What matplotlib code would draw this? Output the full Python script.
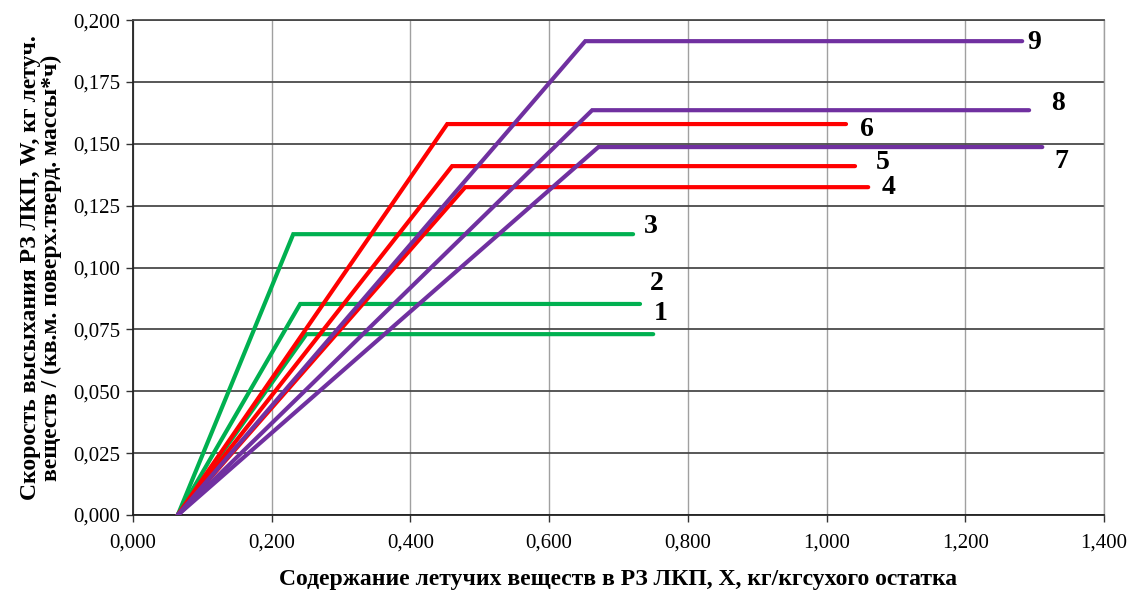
import matplotlib
matplotlib.use("Agg")
import matplotlib.pyplot as plt
from matplotlib.ticker import FuncFormatter, MultipleLocator

GREEN = "#00B050"; RED = "#FF0000"; PURPLE = "#7030A0"
plt.rcParams["font.family"] = ["Liberation Serif", "DejaVu Serif"]

# кривые: начало (x0, 0) -> излом (xk, w) -> конец (xe, w)
x_start = 0.0645
names = ["1", "2", "3", "4", "5", "6", "7", "8", "9"]
x_knee = [0.250, 0.241, 0.231, 0.479, 0.460, 0.453, 0.671, 0.662, 0.652]
x_end = [0.750, 0.731, 0.721, 1.060, 1.041, 1.028, 1.311, 1.292, 1.282]
w_max = [0.0731, 0.0853, 0.1135, 0.1325, 0.1410, 0.1580, 0.1487, 0.1636, 0.1915]
colors = [GREEN] * 3 + [RED] * 3 + [PURPLE] * 3
# подписи номеров кривых
lbl_x = [0.761, 0.755, 0.747, 1.090, 1.081, 1.058, 1.339, 1.334, 1.300]
lbl_y = [0.0816, 0.0937, 0.1168, 0.1325, 0.1426, 0.1560, 0.1430, 0.1665, 0.1910]

fig = plt.figure(figsize=(11.37, 5.92), dpi=100)
ax = fig.add_axes([0.117, 0.130, 0.854, 0.836])

for xk, xe, w, c in zip(x_knee, x_end, w_max, colors):
    ax.plot([x_start, xk, xe], [0, w, w], color=c, lw=3.0,
            solid_capstyle="round", solid_joinstyle="miter", zorder=3)
for n, tx, ty in zip(names, lbl_x, lbl_y):
    ax.text(tx, ty, n, fontsize=20, fontweight="bold", ha="center", va="center", zorder=4)

ax.set_xlim(0, 1.4); ax.set_ylim(0, 0.2)
ax.xaxis.set_major_locator(MultipleLocator(0.2))
ax.yaxis.set_major_locator(MultipleLocator(0.025))
fmt = FuncFormatter(lambda v, p: f"{v:.3f}".replace(".", ","))
ax.xaxis.set_major_formatter(fmt); ax.yaxis.set_major_formatter(fmt)
ax.tick_params(labelsize=15, direction="out", length=5, width=1, colors="#333",
               labelcolor="black")
ax.tick_params(axis="x", pad=8); ax.tick_params(axis="y", pad=4)
ax.grid(True, axis="y", color="#4a4a4a", lw=1.3)
ax.grid(True, axis="x", color="#a0a0a0", lw=1.0)
ax.set_axisbelow(True)
for s in ["left", "bottom"]:
    ax.spines[s].set_color("#222"); ax.spines[s].set_linewidth(1.3)
ax.spines["top"].set_color("#4a4a4a"); ax.spines["top"].set_linewidth(1.3)
ax.spines["right"].set_color("#a0a0a0"); ax.spines["right"].set_linewidth(1.0)

ax.set_xlabel("Содержание летучих веществ в РЗ ЛКП, Х, кг/кгсухого остатка",
              fontsize=17, fontweight="bold", labelpad=12)
ax.set_ylabel("Скорость высыхания РЗ ЛКП, W, кг летуч.\nвеществ / (кв.м. поверх.тверд. массы*ч)",
              fontsize=17, fontweight="bold", labelpad=8, linespacing=1.0)

fig.savefig("out.png", dpi=100)
